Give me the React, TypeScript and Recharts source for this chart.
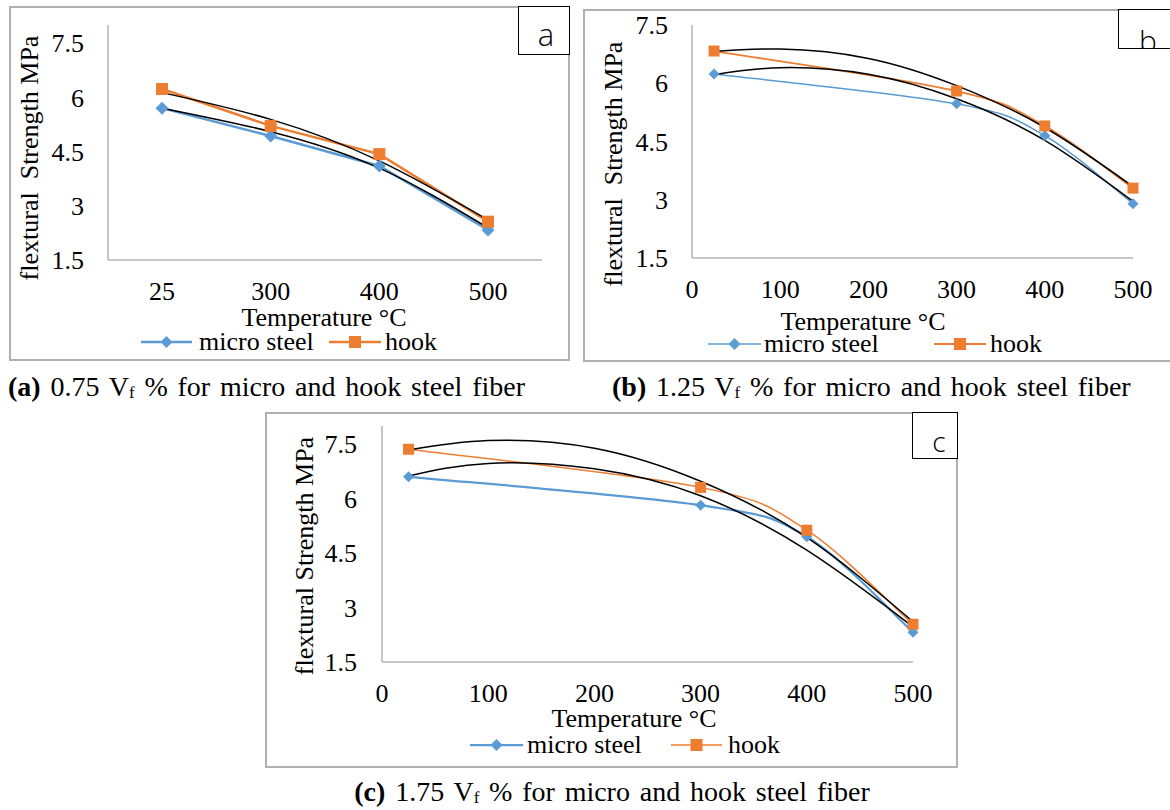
import type { CSSProperties, ReactNode } from "react";
import { LineChart, Line, XAxis, YAxis } from "recharts";

const BLUE = "#5b9bd5";
const ORANGE = "#ed7d31";
const AXIS = "#b4b4b4";
const FRAME = "#b0b0b0";
const SERIF = "'Liberation Serif', 'Times New Roman', serif";
const SANS = "'Open Sans', 'Noto Sans', sans-serif";

// shared ticks
const Y_TICKS = [1.5, 3, 4.5, 6, 7.5];
const X_TICKS = [0, 100, 200, 300, 400, 500];

// (a) 0.75 % – category axis
const TEMPS_A = ["25", "300", "400", "500"];
const MICRO_A = [5.7, 4.93, 4.1, 2.33];
const HOOK_A = [6.23, 5.21, 4.43, 2.56];
const MICRO_FIT_A = [5.7, 5.05, 4.04, 2.39];
const HOOK_FIT_A = [6.13, 5.39, 4.24, 2.61];

// (b) and (c) – numeric temperature axis
const TEMPS = [25, 300, 400, 500];
const FIT_TEMPS = [25, 100, 200, 300, 400, 500];

const MICRO_B = [6.24, 5.47, 4.65, 2.9];
const HOOK_B = [6.83, 5.8, 4.9, 3.3];
const MICRO_FIT_B = [6.22, 6.4, 6.23, 5.6, 4.53, 2.96];
const HOOK_FIT_B = [6.82, 6.88, 6.64, 5.94, 4.86, 3.34];

const MICRO_C = [6.6, 5.82, 4.95, 2.32];
const HOOK_C = [7.36, 6.31, 5.13, 2.54];
const MICRO_FIT_C = [6.62, 6.97, 6.82, 6.08, 4.58, 2.47];
const HOOK_FIT_C = [7.34, 7.6, 7.39, 6.48, 4.93, 2.61];

const rowsA = TEMPS_A.map((t, i) => ({
  t,
  micro: MICRO_A[i],
  hook: HOOK_A[i],
  microFit: MICRO_FIT_A[i],
  hookFit: HOOK_FIT_A[i],
}));

const pairs = (xs: number[], ys: number[]) => xs.map((x, i) => ({ x, y: ys[i] }));

const tickStyle = { fontFamily: SERIF, fontSize: 26, fill: "#000" };
const axisLine = { stroke: AXIS, strokeWidth: 1.5 };

// axis boxes are given real sizes; the margins below make up the rest
const Y_W = 60;
const X_H = 40;

// office-style smoothed line: cubic bezier segments, catmull-rom tangents
function smooth(context: any) {
  let pts: number[][] = [];
  return {
    areaStart() {},
    areaEnd() {},
    lineStart() {
      pts = [];
    },
    point(x: number, y: number) {
      pts.push([+x, +y]);
    },
    lineEnd() {
      const n = pts.length;
      if (!n) return;
      context.moveTo(pts[0][0], pts[0][1]);
      for (let i = 0; i < n - 1; i++) {
        const p0 = pts[Math.max(i - 1, 0)];
        const p1 = pts[i];
        const p2 = pts[i + 1];
        const p3 = pts[Math.min(i + 2, n - 1)];
        context.bezierCurveTo(
          p1[0] + (p2[0] - p0[0]) / 6,
          p1[1] + (p2[1] - p0[1]) / 6,
          p2[0] - (p3[0] - p1[0]) / 6,
          p2[1] - (p3[1] - p1[1]) / 6,
          p2[0],
          p2[1]
        );
      }
    },
  };
}

function diamond(r: number) {
  return (p: any) => {
    const { cx, cy, index } = p;
    if (cx == null || cy == null) return <g key={`dm${index}`} />;
    return (
      <path
        key={`dm${index}`}
        d={`M${cx},${cy - r}L${cx + r},${cy}L${cx},${cy + r}L${cx - r},${cy}Z`}
        fill={BLUE}
      />
    );
  };
}

function square(s: number) {
  return (p: any) => {
    const { cx, cy, index } = p;
    if (cx == null || cy == null) return <g key={`sq${index}`} />;
    return <rect key={`sq${index}`} x={cx - s / 2} y={cy - s / 2} width={s} height={s} fill={ORANGE} />;
  };
}

// absolutely placed text, centred on (x, y) unless anchor is "start"
function Txt({
  x,
  y,
  size = 26,
  anchor = "middle",
  rotate = false,
  font = SERIF,
  weight = 400,
  style,
  children,
}: {
  x: number;
  y: number;
  size?: number;
  anchor?: "middle" | "start";
  rotate?: boolean;
  font?: string;
  weight?: number;
  style?: CSSProperties;
  children: ReactNode;
}) {
  const shift = anchor === "middle" ? "translate(-50%,-50%)" : "translate(0,-50%)";
  return (
    <div
      style={{
        position: "absolute",
        left: x,
        top: y,
        transform: rotate ? `${shift} rotate(-90deg)` : shift,
        fontFamily: font,
        fontSize: size,
        fontWeight: weight,
        lineHeight: 0.78,
        whiteSpace: "nowrap",
        color: "#000",
        ...style,
      }}
    >
      {children}
    </div>
  );
}

function Frame({ left, top, width, height }: { left: number; top: number; width: number; height: number }) {
  return (
    <div
      style={{
        position: "absolute",
        left,
        top,
        width,
        height,
        border: `2px solid ${FRAME}`,
        boxSizing: "border-box",
      }}
    />
  );
}

function Tag({
  left,
  top,
  width,
  height,
  text,
  tx,
  ty,
  size,
}: {
  left: number;
  top: number;
  width: number;
  height: number;
  text: string;
  tx: number;
  ty: number;
  size: number;
}) {
  return (
    <div
      style={{
        position: "absolute",
        left,
        top,
        width,
        height,
        border: "1.5px solid #000",
        boxSizing: "border-box",
        background: "#fff",
        overflow: "hidden",
      }}
    >
      <Txt x={tx} y={ty} size={size} font={SANS} weight={300} style={{ lineHeight: 1 }}>
        {text}
      </Txt>
    </div>
  );
}

// legend: line swatch with marker, then the series name
function LegendItem({
  x1,
  x2,
  y,
  color,
  width,
  marker,
  label,
  textX,
}: {
  x1: number;
  x2: number;
  y: number;
  color: string;
  width: number;
  marker: "diamond" | "square";
  label: string;
  textX: number;
}) {
  const w = x2 - x1;
  const m = w / 2;
  return (
    <>
      <svg style={{ position: "absolute", left: x1, top: y - 8 }} width={w} height={16}>
        <line x1={0} y1={8} x2={w} y2={8} stroke={color} strokeWidth={width} />
        {marker === "diamond" ? (
          <path d={`M${m},2L${m + 6},8L${m},14L${m - 6},8Z`} fill={color} />
        ) : (
          <rect x={m - 6} y={2} width={12} height={12} fill={color} />
        )}
      </svg>
      <Txt x={textX} y={y} anchor="start">
        {label}
      </Txt>
    </>
  );
}

const subF: CSSProperties = { fontSize: "0.6em", verticalAlign: "-0.12em" };
const caption: CSSProperties = { wordSpacing: 2.8 };

export default function App() {
  return (
    <div
      style={{
        position: "absolute",
        left: 0,
        top: 0,
        width: 1170,
        height: 810,
        overflow: "hidden",
        background: "#fff",
      }}
    >
      {/* ---------- panel a ---------- */}
      <Frame left={9} top={6} width={561} height={355} />
      <div style={{ position: "absolute", left: 9, top: 6 }}>
        <LineChart width={560} height={354} data={rowsA} margin={{ top: 19, left: 99 - Y_W, right: 27, bottom: 100 - X_H }}>
          <XAxis
            dataKey="t"
            height={X_H}
            padding={{ left: 54, right: 54 }}
            interval={0}
            tickLine={false}
            tickSize={0}
            tickMargin={22}
            axisLine={axisLine}
            tick={tickStyle}
          />
          <YAxis
            width={Y_W}
            domain={[1.5, 8]}
            ticks={Y_TICKS}
            interval={0}
            tickLine={false}
            tickSize={0}
            tickMargin={24}
            axisLine={axisLine}
            tick={tickStyle}
          />
          <Line dataKey="micro" type="linear" stroke={BLUE} strokeWidth={2.5} dot={diamond(6.5)} activeDot={false} isAnimationActive={false} />
          <Line dataKey="hook" type="linear" stroke={ORANGE} strokeWidth={2.5} dot={square(12)} activeDot={false} isAnimationActive={false} />
          <Line dataKey="microFit" type="natural" stroke="#000" strokeWidth={1.5} dot={false} activeDot={false} isAnimationActive={false} />
          <Line dataKey="hookFit" type="natural" stroke="#000" strokeWidth={1.5} dot={false} activeDot={false} isAnimationActive={false} />
        </LineChart>
      </div>
      <Tag left={518} top={6} width={52} height={49} text="a" tx={27} ty={27} size={31} />
      <Txt x={30} y={158} rotate>
        flextural&nbsp;&nbsp;Strength MPa
      </Txt>
      <Txt x={324} y={318}>Temperature °C</Txt>
      <LegendItem x1={141} x2={192} y={342} color={BLUE} width={2.5} marker="diamond" label="micro steel" textX={199} />
      <LegendItem x1={329} x2={381} y={342} color={ORANGE} width={2.5} marker="square" label="hook" textX={385} />

      {/* ---------- panel b ---------- */}
      <Frame left={583} top={9} width={620} height={353} />
      <div style={{ position: "absolute", left: 583, top: 9 }}>
        <LineChart width={587} height={352} margin={{ top: 16, left: 109 - Y_W, right: 37, bottom: 103 - X_H }}>
          <XAxis
            type="number"
            dataKey="x"
            domain={[0, 500]}
            ticks={X_TICKS}
            interval={0}
            height={X_H}
            tickLine={false}
            tickSize={0}
            tickMargin={22}
            axisLine={axisLine}
            tick={tickStyle}
          />
          <YAxis
            width={Y_W}
            domain={[1.5, 7.5]}
            ticks={Y_TICKS}
            interval={0}
            tickLine={false}
            tickSize={0}
            tickMargin={24}
            axisLine={axisLine}
            tick={tickStyle}
          />
          <Line data={pairs(TEMPS, MICRO_B)} dataKey="y" type={smooth as any} stroke={BLUE} strokeWidth={1.5} dot={diamond(5.5)} activeDot={false} isAnimationActive={false} />
          <Line data={pairs(TEMPS, HOOK_B)} dataKey="y" type={smooth as any} stroke={ORANGE} strokeWidth={1.8} dot={square(11)} activeDot={false} isAnimationActive={false} />
          <Line data={pairs(FIT_TEMPS, MICRO_FIT_B)} dataKey="y" type="natural" stroke="#000" strokeWidth={1.5} dot={false} activeDot={false} isAnimationActive={false} />
          <Line data={pairs(FIT_TEMPS, HOOK_FIT_B)} dataKey="y" type="natural" stroke="#000" strokeWidth={1.5} dot={false} activeDot={false} isAnimationActive={false} />
        </LineChart>
      </div>
      <Tag left={1118} top={9} width={80} height={40} text="b" tx={29} ty={31} size={30} />
      <Txt x={614} y={164} rotate>
        flextural&nbsp;&nbsp;Strength MPa
      </Txt>
      <Txt x={863} y={322}>Temperature °C</Txt>
      <LegendItem x1={708} x2={761} y={344} color={BLUE} width={1.5} marker="diamond" label="micro steel" textX={764} />
      <LegendItem x1={934} x2={986} y={344} color={ORANGE} width={2} marker="square" label="hook" textX={990} />

      {/* ---------- panel c ---------- */}
      <Frame left={265} top={412} width={693} height={356} />
      <div style={{ position: "absolute", left: 265, top: 412 }}>
        <LineChart width={692} height={355} margin={{ top: 14, left: 117 - Y_W, right: 44, bottom: 105 - X_H }}>
          <XAxis
            type="number"
            dataKey="x"
            domain={[0, 500]}
            ticks={X_TICKS}
            interval={0}
            height={X_H}
            tickLine={false}
            tickSize={0}
            tickMargin={22}
            axisLine={axisLine}
            tick={tickStyle}
          />
          <YAxis
            width={Y_W}
            domain={[1.5, 8]}
            ticks={Y_TICKS}
            interval={0}
            tickLine={false}
            tickSize={0}
            tickMargin={25}
            axisLine={axisLine}
            tick={tickStyle}
          />
          <Line data={pairs(TEMPS, MICRO_C)} dataKey="y" type={smooth as any} stroke={BLUE} strokeWidth={2.25} dot={diamond(5.5)} activeDot={false} isAnimationActive={false} />
          <Line data={pairs(TEMPS, HOOK_C)} dataKey="y" type={smooth as any} stroke={ORANGE} strokeWidth={1.5} dot={square(11)} activeDot={false} isAnimationActive={false} />
          <Line data={pairs(FIT_TEMPS, MICRO_FIT_C)} dataKey="y" type="natural" stroke="#000" strokeWidth={1.5} dot={false} activeDot={false} isAnimationActive={false} />
          <Line data={pairs(FIT_TEMPS, HOOK_FIT_C)} dataKey="y" type="natural" stroke="#000" strokeWidth={1.5} dot={false} activeDot={false} isAnimationActive={false} />
        </LineChart>
      </div>
      <Tag left={912} top={412} width={46} height={47} text="c" tx={26} ty={28} size={28} />
      <Txt x={305} y={556} rotate>
        flextural Strength MPa
      </Txt>
      <Txt x={634} y={719}>Temperature °C</Txt>
      <LegendItem x1={470} x2={523} y={745} color={BLUE} width={2.25} marker="diamond" label="micro steel" textX={527} />
      <LegendItem x1={671} x2={722} y={745} color={ORANGE} width={1.5} marker="square" label="hook" textX={728} />

      {/* ---------- captions ---------- */}
      <Txt x={8} y={388} size={28} anchor="start" style={caption}>
        <b>(a)</b> 0.75 V<span style={subF}>f</span> % for micro and hook steel fiber
      </Txt>
      <Txt x={612} y={388} size={28} anchor="start" style={caption}>
        <b>(b)</b> 1.25 V<span style={subF}>f</span> % for micro and hook steel fiber
      </Txt>
      <Txt x={612} y={793} size={28} style={caption}>
        <b>(c)</b> 1.75 V<span style={subF}>f</span> % for micro and hook steel fiber
      </Txt>
    </div>
  );
}
